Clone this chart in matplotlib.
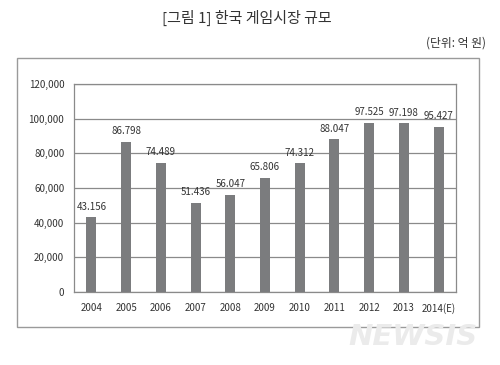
import matplotlib
matplotlib.use("Agg")
import matplotlib.pyplot as plt
from matplotlib.patches import Rectangle

plt.rcParams['font.family'] = ['Noto Sans CJK KR', 'DejaVu Sans']

# --- Data ---
years = ['2004', '2005', '2006', '2007', '2008', '2009', '2010',
         '2011', '2012', '2013', '2014(E)']
market = [43156, 86798, 74489, 51436, 56047, 65806, 74312,
          88047, 97525, 97198, 95427]
y_ticks = [0, 20000, 40000, 60000, 80000, 100000, 120000]
y_tick_labels = ['0', '20,000', '40,000', '60,000', '80,000', '100,000', '120,000']

BAR_COLOR = '#7b7c7e'
TEXT_COLOR = '#333333'
GRID_COLOR = '#8a8a8a'

fig = plt.figure(figsize=(5, 3.65), dpi=100)
fig.patch.set_facecolor('white')

# outer frame
fig.patches.append(Rectangle((0.034, 0.104), 0.924, 0.737, transform=fig.transFigure,
                             fill=False, edgecolor='#9a9a9a', linewidth=1.0))

ax = fig.add_axes([0.148, 0.2, 0.764, 0.57])
x = range(len(years))
bars = ax.bar(x, market, width=0.29, color=BAR_COLOR, zorder=3)

for xi, v in zip(x, market):
    lab = f"{v:,}".replace(',', '.')
    ax.annotate(lab, (xi, v), xytext=(0, 4), textcoords='offset points',
                ha='center', va='bottom', fontsize=7, color=TEXT_COLOR)

ax.set_xlim(-0.5, len(years) - 0.5)
ax.set_ylim(0, 120000)
ax.set_yticks(y_ticks)
ax.set_yticklabels(y_tick_labels)
ax.set_xticks(list(x))
ax.set_xticklabels(years)
ax.tick_params(axis='both', length=0, labelsize=7, colors=TEXT_COLOR)
ax.tick_params(axis='y', pad=7)
ax.tick_params(axis='x', pad=8)
ax.yaxis.grid(True, color=GRID_COLOR, linewidth=0.9, zorder=0)
ax.set_axisbelow(True)
for s in ax.spines.values():
    s.set_color(GRID_COLOR)
    s.set_linewidth(0.9)

fig.text(0.494, 0.951, '[그림 1] 한국 게임시장 규모', ha='center', va='center',
         fontsize=10.8, color=TEXT_COLOR)
fig.text(0.972, 0.881, '(단위: 억 원)', ha='right', va='center',
         fontsize=8.5, color=TEXT_COLOR)

# watermark
fig.text(0.826, 0.077, 'NEWSIS', ha='center', va='center', fontsize=21,
         fontweight='bold', style='italic', color='#ebebeb', family='DejaVu Sans')

fig.savefig('out.png', dpi=100, facecolor='white')
